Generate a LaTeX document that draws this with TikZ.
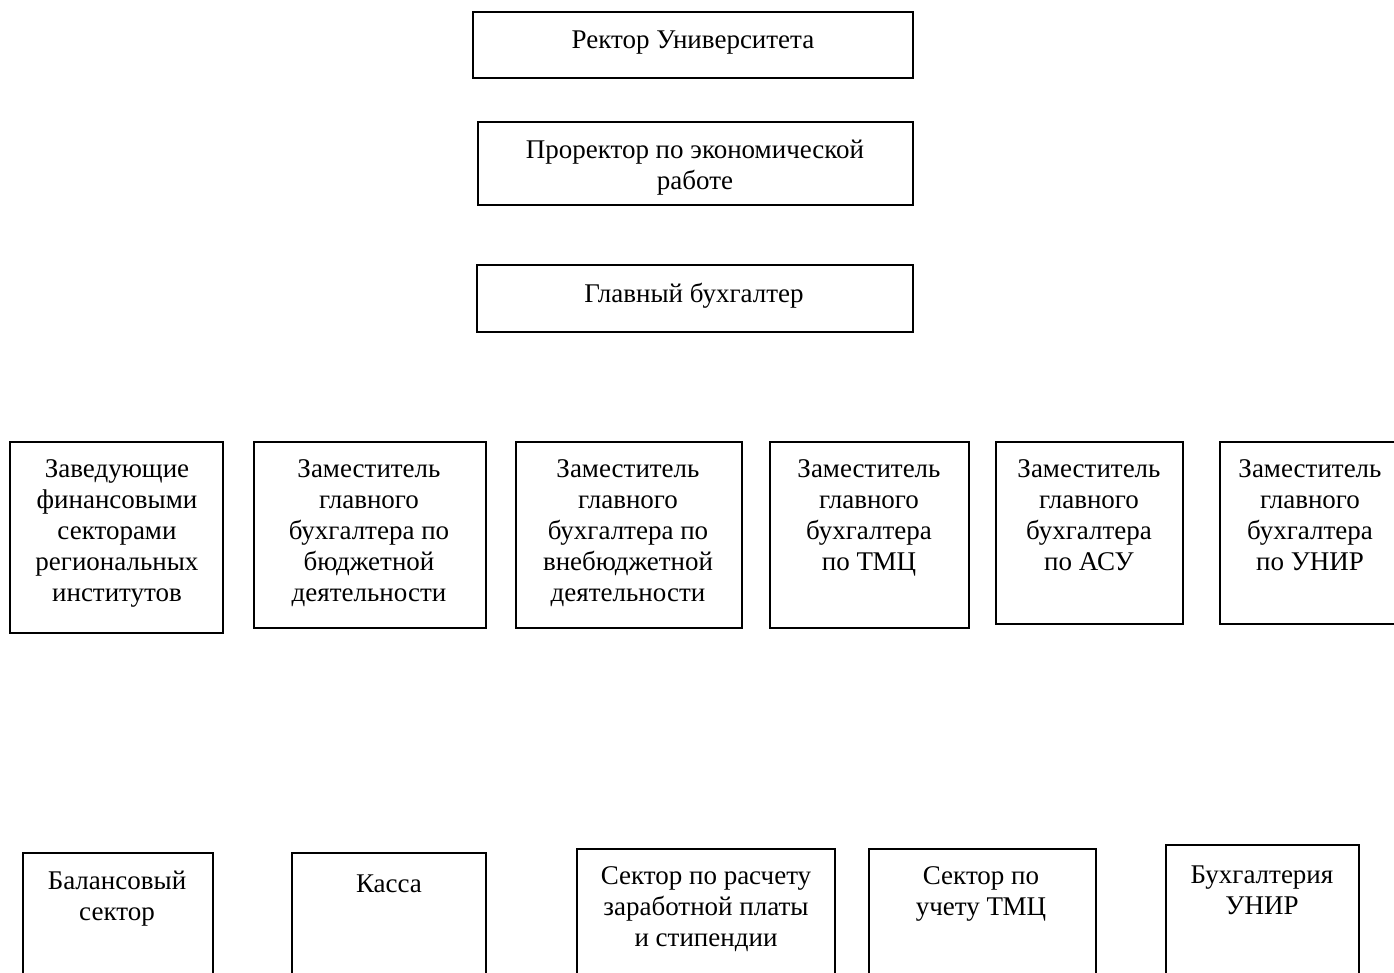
\documentclass[tikz,border=0pt]{standalone}
\usepackage{fontspec}
\setmainfont{Liberation Serif}
\tikzset{
        % boxes of the chart, drawn as plain rectangles
        box/.style={line width=0.9pt},
        % text inside the boxes
        lbl/.style={align=center, inner sep=0pt, font=\fontsize{13.5}{15.5}\selectfont}
    }

\begin{document}
\begin{tikzpicture}[x=0.5pt,y=0.5pt,yscale=-1]
\useasboundingbox (0,0) rectangle (1394,973);
\clip (0,0) rectangle (1394,973);

%Top column
\draw [box] (473,12) rectangle (913,78) ;
\draw [box] (478,122) rectangle (913,205) ;
\draw [box] (477,265) rectangle (913,332) ;

%Middle row
\draw [box] (10,442) rectangle (223,633) ;
\draw [box] (254,442) rectangle (486,628) ;
\draw [box] (516,442) rectangle (742,628) ;
\draw [box] (770,442) rectangle (969,628) ;
\draw [box] (996,442) rectangle (1183,624) ;
\draw [box] (1220,442) rectangle (1402,624) ;

%Bottom row
\draw [box] (23,853) rectangle (213,1000) ;
\draw [box] (292,853) rectangle (486,1000) ;
\draw [box] (577,849) rectangle (835,1000) ;
\draw [box] (869,849) rectangle (1096,1000) ;
\draw [box] (1166,845) rectangle (1359,1000) ;

% Text Node
\node [lbl] (rector) at (693,43) {Ректор Университета};
% Text Node
\node [lbl] (prorector) at (695,168) {Проректор по экономической\\работе};
% Text Node
\node [lbl] (glavbuh) at (694,296) {Главный бухгалтер};
% Text Node
\node [lbl] (zavfin) at (117,533) {Заведующие\\финансовыми\\секторами\\региональных\\институтов};
% Text Node
\node [lbl] (zambud) at (369,533) {Заместитель\\главного\\бухгалтера по\\бюджетной\\деятельности};
% Text Node
\node [lbl] (zamvneb) at (628,533) {Заместитель\\главного\\бухгалтера по\\внебюджетной\\деятельности};
% Text Node
\node [lbl] (zamtmc) at (869,518) {Заместитель\\главного\\бухгалтера\\по ТМЦ};
% Text Node
\node [lbl] (zamasu) at (1089,515) {Заместитель\\главного\\бухгалтера\\по АСУ};
% Text Node
\node [lbl] (zamunir) at (1310,515) {Заместитель\\главного\\бухгалтера\\по УНИР};
% Text Node
\node [lbl] (balans) at (117,899) {Балансовый\\сектор};
% Text Node
\node [lbl] (kassa) at (389,884) {Касса};
% Text Node
\node [lbl] (zarplata) at (706,909) {Сектор по расчету\\заработной платы\\и стипендии};
% Text Node
\node [lbl] (sektmc) at (981,894) {Сектор по\\учету ТМЦ};
% Text Node
\node [lbl] (bunir) at (1262,890) {Бухгалтерия\\УНИР};

\end{tikzpicture}
\end{document}
